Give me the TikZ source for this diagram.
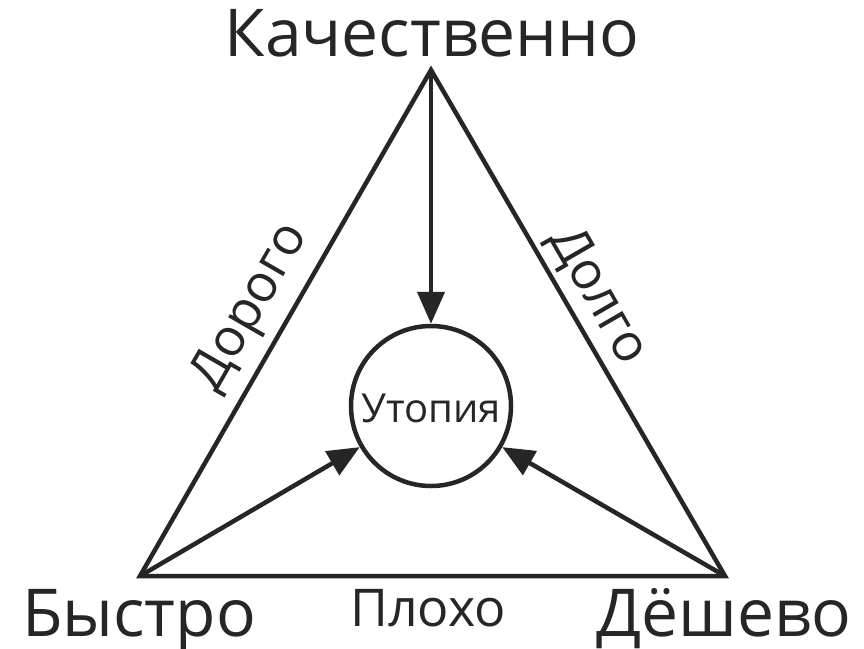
\documentclass[tikz,border=0pt]{standalone}
\usepackage{fontspec}
\setmainfont{Open Sans}
\usetikzlibrary{arrows.meta}
\definecolor{ink}{HTML}{262626}
\begin{document}
\begin{tikzpicture}[x=1pt,y=-1pt,
  edge/.style={draw=ink,line width=4.5pt,line join=miter},
  arr/.style={draw=ink,line width=4.5pt,-{Triangle[length=32pt,width=27pt]}},
  big/.style={text=ink,font=\fontsize{66}{72}\selectfont,inner sep=0pt},
  mid/.style={text=ink,font=\fontsize{52}{56}\selectfont,inner sep=0pt}]
\useasboundingbox[fill=white] (0,0) rectangle (864,648);
\coordinate (T) at (431,70);
\coordinate (L) at (140,576);
\coordinate (R) at (725,576);
\draw[edge] (T) -- (L) -- (R) -- cycle;
\node[circle,draw=ink,line width=4.5pt,minimum size=160pt,inner sep=0pt] (U) at (431,406) {};
\node[text=ink,font=\fontsize{40}{44}\selectfont,inner sep=0pt] (ut) at (431,408) {Утопия};
\draw[arr] (T) -- (U.north);
\draw[arr] (L) -- (U.210);
\draw[arr] (R) -- (U.330);
\node[big,anchor=base] (q) at (432,56) {Качественно};
\node[big,anchor=base west] (b) at (22,636) {Быстро};
\node[big,anchor=base east] (d) at (852,636) {Дёшево};
\node[mid,anchor=base] (p) at (428,626) {Плохо};
\node[mid,rotate=60] (dor) at (252,308) {Дорого};
\node[mid,rotate=-60] (dol) at (598,296) {Долго};
\end{tikzpicture}
\end{document}
